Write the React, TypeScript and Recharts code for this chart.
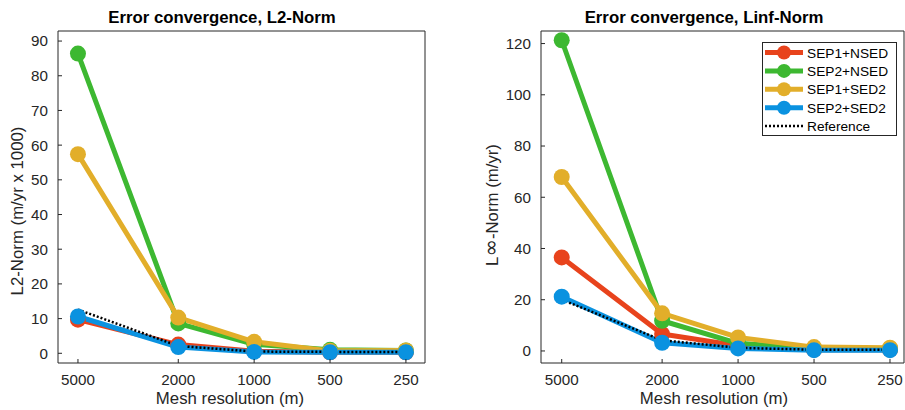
import React from 'react';
import { LineChart, Line, XAxis, YAxis } from 'recharts';

// ---- data ----
const resolutions = [5000, 2000, 1000, 500, 250];
const xTicks = [5000, 2000, 1000, 500, 250];

const seriesKeys = ['sep1nsed', 'sep2nsed', 'sep1sed2', 'sep2sed2', 'reference'];
const seriesNames = ['SEP1+NSED', 'SEP2+NSED', 'SEP1+SED2', 'SEP2+SED2', 'Reference'];
const seriesColors = ['#E8431C', '#3DB831', '#E2AE2A', '#0A92E0', '#000000'];

const l2Sep1Nsed = [9.7, 2.5, 0.6, 0.3, 0.3];
const l2Sep2Nsed = [86.4, 8.6, 2.6, 1.0, 0.8];
const l2Sep1Sed2 = [57.4, 10.3, 3.3, 0.7, 0.8];
const l2Sep2Sed2 = [10.6, 1.8, 0.4, 0.3, 0.3];
const l2Reference = [12.6, 2.1, 0.5, 0.4, 0.4];
const l2Ticks = [0, 10, 20, 30, 40, 50, 60, 70, 80, 90];

const linfSep1Nsed = [36.5, 6.6, 2.0, 0.5, 0.5];
const linfSep2Nsed = [121.3, 11.8, 3.0, 1.0, 1.0];
const linfSep1Sed2 = [67.9, 14.7, 5.3, 1.5, 1.3];
const linfSep2Sed2 = [21.2, 3.2, 1.0, 0.3, 0.3];
const linfReference = [20.0, 4.2, 1.2, 0.5, 0.5];
const linfTicks = [0, 20, 40, 60, 80, 100, 120];

const buildData = (cols: number[][]) =>
  resolutions.map((r, i) => {
    const row: Record<string, number> = { res: r };
    seriesKeys.forEach((k, j) => {
      row[k] = cols[j][i];
    });
    return row;
  });

const l2Data = buildData([l2Sep1Nsed, l2Sep2Nsed, l2Sep1Sed2, l2Sep2Sed2, l2Reference]);
const linfData = buildData([linfSep1Nsed, linfSep2Nsed, linfSep1Sed2, linfSep2Sed2, linfReference]);

// ---- styles ----
const FONT = '"Liberation Sans", Arial, Helvetica, sans-serif';
const AXIS = '#262626';
const TICK_FS = 15.2;

const XTick = (p: any) => (
  <g>
    <line x1={p.x} x2={p.x} y1={p.y - 11} y2={p.y - 15} stroke={AXIS} strokeWidth={1} />
    <text x={p.x} y={p.y} dy="0.71em" textAnchor="middle" fill={AXIS} fontSize={TICK_FS} fontFamily={FONT}>
      {p.payload.value}
    </text>
  </g>
);

const YTick = (p: any) => (
  <g>
    <line x1={p.x + 10} x2={p.x + 14} y1={p.y} y2={p.y} stroke={AXIS} strokeWidth={1} />
    <text x={p.x} y={p.y} dy="0.355em" textAnchor="end" fill={AXIS} fontSize={TICK_FS} fontFamily={FONT}>
      {p.payload.value}
    </text>
  </g>
);

type PanelProps = {
  data: Record<string, number>[];
  width: number;
  marginRight: number;
  yAxisWidth: number;
  xDomain: [number, number];
  yDomain: [number, number];
  yTicks: number[];
};

function Panel({ data, width, marginRight, yAxisWidth, xDomain, yDomain, yTicks }: PanelProps) {
  return (
    <LineChart
      width={width}
      height={410}
      data={data}
      margin={{ top: 31, right: marginRight, left: 0, bottom: 0 }}
    >
      <XAxis
        xAxisId="top"
        dataKey="res"
        type="number"
        scale="log"
        domain={xDomain}
        reversed
        allowDataOverflow
        ticks={xTicks}
        orientation="top"
        mirror
        height={1}
        tick={false}
        tickSize={4}
        stroke={AXIS}
      />
      <YAxis
        yAxisId="right"
        type="number"
        domain={yDomain}
        allowDataOverflow
        ticks={yTicks}
        orientation="right"
        mirror
        width={1}
        tick={false}
        tickSize={4}
        stroke={AXIS}
      />
      <XAxis
        xAxisId="main"
        dataKey="res"
        type="number"
        scale="log"
        domain={xDomain}
        reversed
        allowDataOverflow
        ticks={xTicks}
        orientation="bottom"
        height={47}
        tickLine={false}
        tickSize={0}
        tickMargin={11}
        tick={<XTick />}
        stroke={AXIS}
        interval={0}
      />
      <YAxis
        yAxisId="main"
        type="number"
        domain={yDomain}
        allowDataOverflow
        ticks={yTicks}
        orientation="left"
        width={yAxisWidth}
        tickLine={false}
        tickSize={0}
        tickMargin={10}
        tick={<YTick />}
        stroke={AXIS}
        interval={0}
      />
      {seriesKeys.map((k, i) =>
        k === 'reference' ? (
          <Line
            key={k}
            xAxisId="main"
            yAxisId="main"
            dataKey={k}
            type="linear"
            stroke={seriesColors[i]}
            strokeWidth={2.5}
            strokeDasharray="2 2"
            dot={false}
            activeDot={false}
            isAnimationActive={false}
          />
        ) : (
          <Line
            key={k}
            xAxisId="main"
            yAxisId="main"
            dataKey={k}
            type="linear"
            stroke={seriesColors[i]}
            strokeWidth={5}
            strokeLinejoin="round"
            dot={{ r: 8, fill: seriesColors[i], stroke: 'none' }}
            activeDot={false}
            isAnimationActive={false}
          />
        )
      )}
    </LineChart>
  );
}

function Overlay() {
  const rowY0 = 52.5;
  const rowStep = 18.4;
  return (
    <svg
      width={905}
      height={410}
      style={{ position: 'absolute', left: 0, top: 0, pointerEvents: 'none' }}
      fontFamily={FONT}
    >
      <text x={222} y={23} textAnchor="middle" fontWeight="bold" fontSize={16.8} fill="#000">
        Error convergence, L2-Norm
      </text>
      <text x={704} y={23} textAnchor="middle" fontWeight="bold" fontSize={16.8} fill="#000">
        Error convergence, Linf-Norm
      </text>
      <text x={230} y={404} textAnchor="middle" fontSize={16.8} fill={AXIS}>
        Mesh resolution (m)
      </text>
      <text x={714} y={404} textAnchor="middle" fontSize={16.8} fill={AXIS}>
        Mesh resolution (m)
      </text>
      <text transform="translate(23,211) rotate(-90)" textAnchor="middle" fontSize={16.8} fill={AXIS}>
        L2-Norm (m/yr x 1000)
      </text>
      <text transform="translate(497.5,205) rotate(-90)" textAnchor="middle" fontSize={16.8} fill={AXIS}>
        L<tspan fontFamily='"DejaVu Sans", sans-serif' fontSize={21}>∞</tspan>-Norm (m/yr)
      </text>
      <g>
        <rect x={762.5} y={42.5} width={134} height={93} fill="#fff" stroke={AXIS} strokeWidth={1} />
        {seriesNames.map((name, i) => {
          const cy = rowY0 + i * rowStep;
          const isRef = seriesKeys[i] === 'reference';
          return (
            <g key={name}>
              <line
                x1={765}
                x2={803}
                y1={cy}
                y2={cy}
                stroke={seriesColors[i]}
                strokeWidth={isRef ? 2.5 : 5}
                strokeDasharray={isRef ? '2 2' : undefined}
              />
              {!isRef && <circle cx={784} cy={cy} r={7} fill={seriesColors[i]} />}
              <text x={807} y={cy + 5} fontSize={13.7} fill="#000">
                {name}
              </text>
            </g>
          );
        })}
      </g>
    </svg>
  );
}

export default function App() {
  return (
    <div style={{ position: 'absolute', left: 0, top: 0, width: 905, height: 410, background: '#fff', fontFamily: FONT }}>
      <div style={{ position: 'absolute', left: 0, top: 0 }}>
        <Panel
          data={l2Data}
          width={450}
          marginRight={25}
          yAxisWidth={58}
          xDomain={[210, 6000]}
          yDomain={[-2.8, 92.9]}
          yTicks={l2Ticks}
        />
      </div>
      <div style={{ position: 'absolute', left: 450, top: 0 }}>
        <Panel
          data={linfData}
          width={455}
          marginRight={1}
          yAxisWidth={91}
          xDomain={[220, 6040]}
          yDomain={[-4.7, 124.9]}
          yTicks={linfTicks}
        />
      </div>
      <Overlay />
    </div>
  );
}
